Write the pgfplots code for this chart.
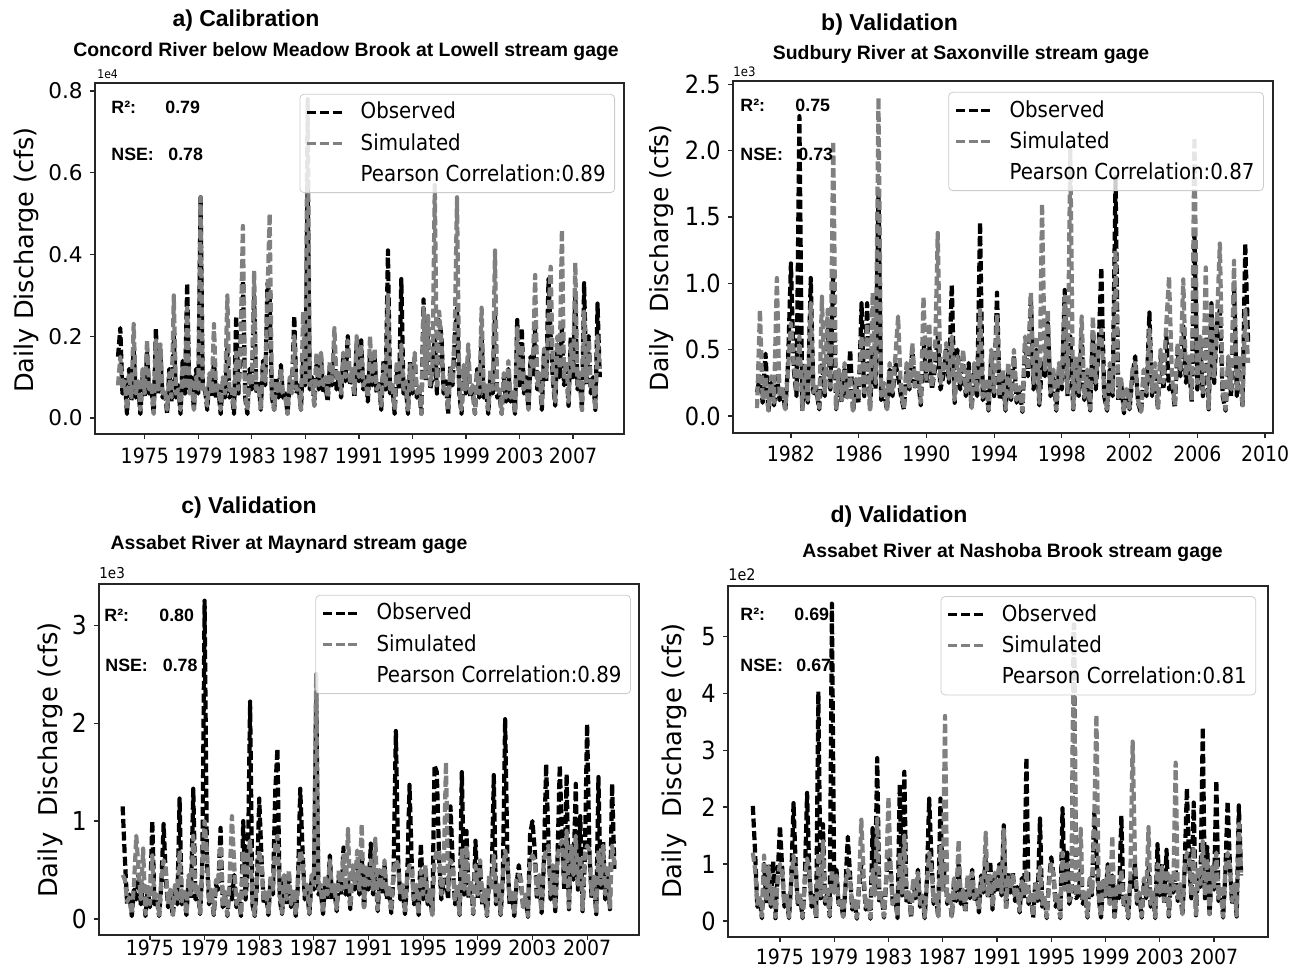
\documentclass[border=0pt]{standalone}
\usepackage{pgfplots}
\pgfplotsset{compat=1.18}
\usepackage{pgfplotstable}
\usepackage{fontspec}
\setmainfont{DejaVu Sans}
\newfontfamily\dvc{DejaVu Sans}[FakeStretch=0.9]
\newfontfamily\ar{Liberation Sans}
\definecolor{simgray}{RGB}{128,128,128}
\newcommand{\fs}[1]{\fontsize{#1}{#1}\selectfont}

% daily discharge, sampled six times a year: t, observed, simulated
% a) Concord River (x 1e4 cfs)
\pgfplotstableread[row sep=\\]{
t o s\\
1973.00 0.15 0.08\\ 1973.17 0.22 0.15\\ 1973.33 0.06 0.07\\ 1973.50 0.10 0.09\\ 1973.67 0.01 0.02\\ 1973.83 0.12 0.11\\
1974.00 0.04 0.05\\ 1974.17 0.17 0.23\\ 1974.33 0.05 0.06\\ 1974.50 0.08 0.09\\ 1974.67 0.01 0.02\\ 1974.83 0.10 0.12\\
1975.00 0.05 0.06\\ 1975.17 0.16 0.19\\ 1975.33 0.06 0.07\\ 1975.50 0.07 0.08\\ 1975.67 0.01 0.01\\ 1975.83 0.22 0.19\\
1976.00 0.06 0.07\\ 1976.17 0.15 0.18\\ 1976.33 0.05 0.06\\ 1976.50 0.07 0.07\\ 1976.67 0.01 0.02\\ 1976.83 0.12 0.11\\
1977.00 0.04 0.05\\ 1977.17 0.20 0.30\\ 1977.33 0.05 0.06\\ 1977.50 0.08 0.07\\ 1977.67 0.01 0.02\\ 1977.83 0.14 0.13\\
1978.00 0.06 0.07\\ 1978.17 0.33 0.27\\ 1978.33 0.07 0.06\\ 1978.50 0.10 0.09\\ 1978.67 0.02 0.02\\ 1978.83 0.12 0.10\\
1979.00 0.06 0.07\\ 1979.17 0.54 0.54\\ 1979.33 0.08 0.07\\ 1979.50 0.07 0.08\\ 1979.67 0.02 0.03\\ 1979.83 0.10 0.11\\
1980.00 0.05 0.06\\ 1980.17 0.14 0.23\\ 1980.33 0.05 0.06\\ 1980.50 0.07 0.08\\ 1980.67 0.01 0.02\\ 1980.83 0.09 0.10\\
1981.00 0.05 0.06\\ 1981.17 0.17 0.30\\ 1981.33 0.05 0.06\\ 1981.50 0.06 0.07\\ 1981.67 0.01 0.02\\ 1981.83 0.25 0.16\\
1982.00 0.06 0.07\\ 1982.17 0.18 0.20\\ 1982.33 0.35 0.47\\ 1982.50 0.05 0.06\\ 1982.67 0.01 0.02\\ 1982.83 0.12 0.11\\
1983.00 0.07 0.08\\ 1983.17 0.30 0.36\\ 1983.33 0.06 0.07\\ 1983.50 0.09 0.08\\ 1983.67 0.02 0.02\\ 1983.83 0.14 0.13\\
1984.00 0.08 0.09\\ 1984.17 0.33 0.30\\ 1984.33 0.30 0.50\\ 1984.50 0.05 0.06\\ 1984.67 0.02 0.02\\ 1984.83 0.10 0.09\\
1985.00 0.05 0.06\\ 1985.17 0.13 0.12\\ 1985.33 0.05 0.06\\ 1985.50 0.06 0.05\\ 1985.67 0.01 0.01\\ 1985.83 0.09 0.10\\
1986.00 0.07 0.06\\ 1986.17 0.25 0.20\\ 1986.33 0.06 0.07\\ 1986.50 0.08 0.07\\ 1986.67 0.02 0.02\\ 1986.83 0.14 0.26\\
1987.00 0.08 0.08\\ 1987.17 0.58 0.78\\ 1987.33 0.07 0.08\\ 1987.50 0.10 0.09\\ 1987.67 0.03 0.03\\ 1987.83 0.14 0.16\\
1988.00 0.07 0.08\\ 1988.17 0.15 0.16\\ 1988.33 0.06 0.08\\ 1988.50 0.08 0.10\\ 1988.67 0.04 0.05\\ 1988.83 0.13 0.14\\
1989.00 0.08 0.09\\ 1989.17 0.17 0.22\\ 1989.33 0.07 0.09\\ 1989.50 0.10 0.11\\ 1989.67 0.05 0.06\\ 1989.83 0.15 0.16\\
1990.00 0.09 0.10\\ 1990.17 0.20 0.19\\ 1990.33 0.08 0.09\\ 1990.50 0.11 0.12\\ 1990.67 0.05 0.06\\ 1990.83 0.18 0.20\\
1991.00 0.09 0.10\\ 1991.17 0.19 0.18\\ 1991.33 0.07 0.08\\ 1991.50 0.10 0.09\\ 1991.67 0.04 0.05\\ 1991.83 0.16 0.20\\
1992.00 0.08 0.09\\ 1992.17 0.15 0.17\\ 1992.33 0.06 0.07\\ 1992.50 0.09 0.08\\ 1992.67 0.02 0.03\\ 1992.83 0.14 0.13\\
1993.00 0.07 0.08\\ 1993.17 0.41 0.30\\ 1993.33 0.06 0.07\\ 1993.50 0.08 0.08\\ 1993.67 0.01 0.02\\ 1993.83 0.12 0.14\\
1994.00 0.07 0.08\\ 1994.17 0.34 0.18\\ 1994.33 0.06 0.07\\ 1994.50 0.08 0.09\\ 1994.67 0.01 0.02\\ 1994.83 0.14 0.13\\
1995.00 0.06 0.07\\ 1995.17 0.15 0.16\\ 1995.33 0.05 0.06\\ 1995.50 0.07 0.08\\ 1995.67 0.01 0.01\\ 1995.83 0.29 0.27\\
1996.00 0.09 0.10\\ 1996.17 0.22 0.25\\ 1996.33 0.07 0.08\\ 1996.50 0.10 0.12\\ 1996.67 0.20 0.57\\ 1996.83 0.06 0.08\\
1997.00 0.24 0.26\\ 1997.17 0.20 0.18\\ 1997.33 0.06 0.07\\ 1997.50 0.09 0.08\\ 1997.67 0.01 0.02\\ 1997.83 0.13 0.12\\
1998.00 0.08 0.09\\ 1998.17 0.20 0.22\\ 1998.33 0.27 0.54\\ 1998.50 0.06 0.07\\ 1998.67 0.01 0.02\\ 1998.83 0.12 0.13\\
1999.00 0.06 0.07\\ 1999.17 0.15 0.18\\ 1999.33 0.05 0.06\\ 1999.50 0.07 0.08\\ 1999.67 0.01 0.01\\ 1999.83 0.12 0.11\\
2000.00 0.05 0.06\\ 2000.17 0.20 0.27\\ 2000.33 0.05 0.06\\ 2000.50 0.07 0.08\\ 2000.67 0.01 0.02\\ 2000.83 0.11 0.12\\
2001.00 0.06 0.07\\ 2001.17 0.25 0.41\\ 2001.33 0.05 0.06\\ 2001.50 0.06 0.07\\ 2001.67 0.01 0.01\\ 2001.83 0.10 0.11\\
2002.00 0.04 0.05\\ 2002.17 0.12 0.14\\ 2002.33 0.04 0.05\\ 2002.50 0.06 0.07\\ 2002.67 0.01 0.01\\ 2002.83 0.24 0.22\\
2003.00 0.08 0.09\\ 2003.17 0.22 0.18\\ 2003.33 0.06 0.07\\ 2003.50 0.10 0.09\\ 2003.67 0.02 0.02\\ 2003.83 0.15 0.14\\
2004.00 0.10 0.12\\ 2004.17 0.22 0.35\\ 2004.33 0.07 0.08\\ 2004.50 0.10 0.11\\ 2004.67 0.02 0.03\\ 2004.83 0.16 0.17\\
2005.00 0.09 0.10\\ 2005.17 0.34 0.25\\ 2005.33 0.20 0.37\\ 2005.50 0.09 0.10\\ 2005.67 0.03 0.04\\ 2005.83 0.18 0.20\\
2006.00 0.10 0.12\\ 2006.17 0.22 0.46\\ 2006.33 0.08 0.10\\ 2006.50 0.12 0.14\\ 2006.67 0.03 0.04\\ 2006.83 0.20 0.18\\
2007.00 0.10 0.11\\ 2007.17 0.30 0.38\\ 2007.33 0.07 0.08\\ 2007.50 0.10 0.11\\ 2007.67 0.02 0.02\\ 2007.83 0.33 0.26\\
2008.00 0.08 0.09\\ 2008.17 0.20 0.19\\ 2008.33 0.06 0.07\\ 2008.50 0.10 0.09\\ 2008.67 0.02 0.02\\ 2008.83 0.28 0.20\\
2009.00 0.10 0.12\\
}\tabA

% b) Sudbury River (x 1e3 cfs)
\pgfplotstableread[row sep=\\]{
t o s\\
1980.00 0.18 0.06\\ 1980.17 0.30 0.80\\ 1980.33 0.10 0.12\\ 1980.50 0.47 0.30\\ 1980.67 0.03 0.04\\ 1980.83 0.25 0.30\\
1981.00 0.08 0.10\\ 1981.17 0.30 1.04\\ 1981.33 0.12 0.14\\ 1981.50 0.20 0.22\\ 1981.67 0.04 0.05\\ 1981.83 0.40 0.35\\
1982.00 1.15 0.70\\ 1982.17 0.35 0.40\\ 1982.33 0.15 0.18\\ 1982.50 2.26 0.60\\ 1982.67 0.04 0.05\\ 1982.83 0.35 0.38\\
1983.00 0.10 0.12\\ 1983.17 1.04 0.85\\ 1983.33 0.15 0.18\\ 1983.50 0.20 0.22\\ 1983.67 0.05 0.06\\ 1983.83 0.40 0.90\\
1984.00 0.15 0.18\\ 1984.17 0.70 0.80\\ 1984.33 0.20 0.22\\ 1984.50 1.10 2.07\\ 1984.67 0.05 0.06\\ 1984.83 0.30 0.35\\
1985.00 0.10 0.12\\ 1985.17 0.35 0.40\\ 1985.33 0.12 0.14\\ 1985.50 0.50 0.30\\ 1985.67 0.03 0.04\\ 1985.83 0.25 0.28\\
1986.00 0.10 0.12\\ 1986.17 0.85 0.60\\ 1986.33 0.15 0.18\\ 1986.50 0.85 0.70\\ 1986.67 0.04 0.05\\ 1986.83 0.50 0.93\\
1987.00 0.20 0.25\\ 1987.17 1.70 2.40\\ 1987.33 0.12 0.15\\ 1987.50 0.20 0.25\\ 1987.67 0.04 0.05\\ 1987.83 0.35 0.40\\
1988.00 0.15 0.18\\ 1988.17 0.40 0.45\\ 1988.33 0.30 0.75\\ 1988.50 0.15 0.18\\ 1988.67 0.05 0.06\\ 1988.83 0.35 0.40\\
1989.00 0.20 0.22\\ 1989.17 0.50 0.55\\ 1989.33 0.20 0.22\\ 1989.50 0.30 0.35\\ 1989.67 0.08 0.10\\ 1989.83 0.58 0.90\\
1990.00 0.25 0.28\\ 1990.17 0.55 0.70\\ 1990.33 0.20 0.22\\ 1990.50 0.35 0.40\\ 1990.67 0.60 1.38\\ 1990.83 0.20 0.25\\
1991.00 0.30 0.35\\ 1991.17 0.50 0.55\\ 1991.33 0.25 0.28\\ 1991.50 0.99 0.60\\ 1991.67 0.10 0.12\\ 1991.83 0.50 0.45\\
1992.00 0.20 0.25\\ 1992.17 0.45 0.50\\ 1992.33 0.15 0.18\\ 1992.50 0.40 0.35\\ 1992.67 0.05 0.06\\ 1992.83 0.35 0.40\\
1993.00 0.15 0.18\\ 1993.17 1.46 0.80\\ 1993.33 0.12 0.14\\ 1993.50 0.25 0.28\\ 1993.67 0.04 0.05\\ 1993.83 0.45 0.50\\
1994.00 0.15 0.18\\ 1994.17 0.93 0.75\\ 1994.33 0.12 0.15\\ 1994.50 0.30 0.35\\ 1994.67 0.04 0.05\\ 1994.83 0.35 0.40\\
1995.00 0.12 0.14\\ 1995.17 0.45 0.50\\ 1995.33 0.10 0.12\\ 1995.50 0.20 0.22\\ 1995.67 0.03 0.04\\ 1995.83 0.55 0.60\\
1996.00 0.30 0.35\\ 1996.17 0.90 0.93\\ 1996.33 0.20 0.25\\ 1996.50 0.50 0.60\\ 1996.67 0.08 0.10\\ 1996.83 0.40 1.60\\
1997.00 0.30 0.35\\ 1997.17 0.70 0.80\\ 1997.33 0.15 0.18\\ 1997.50 0.30 0.35\\ 1997.67 0.04 0.05\\ 1997.83 0.35 0.40\\
1998.00 0.20 0.25\\ 1998.17 0.95 0.90\\ 1998.33 0.15 0.18\\ 1998.50 0.60 2.00\\ 1998.67 0.05 0.06\\ 1998.83 0.40 0.45\\
1999.00 0.15 0.18\\ 1999.17 0.60 0.75\\ 1999.33 0.12 0.14\\ 1999.50 0.30 0.35\\ 1999.67 0.04 0.05\\ 1999.83 0.60 0.75\\
2000.00 0.20 0.25\\ 2000.17 0.50 0.55\\ 2000.33 1.12 0.65\\ 2000.50 0.15 0.18\\ 2000.67 0.04 0.05\\ 2000.83 0.35 0.40\\
2001.00 0.15 0.18\\ 2001.17 1.80 1.25\\ 2001.33 0.12 0.14\\ 2001.50 0.25 0.28\\ 2001.67 0.02 0.03\\ 2001.83 0.20 0.22\\
2002.00 0.05 0.06\\ 2002.17 0.30 0.35\\ 2002.33 0.45 0.40\\ 2002.50 0.10 0.12\\ 2002.67 0.02 0.03\\ 2002.83 0.30 0.35\\
2003.00 0.15 0.18\\ 2003.17 0.78 0.65\\ 2003.33 0.15 0.18\\ 2003.50 0.35 0.40\\ 2003.67 0.05 0.06\\ 2003.83 0.45 0.50\\
2004.00 0.20 0.25\\ 2004.17 0.60 0.70\\ 2004.33 0.20 1.05\\ 2004.50 0.25 0.30\\ 2004.67 0.06 0.08\\ 2004.83 0.50 0.55\\
2005.00 0.30 0.35\\ 2005.17 0.68 1.03\\ 2005.33 0.25 0.30\\ 2005.50 0.40 0.45\\ 2005.67 0.10 0.12\\ 2005.83 1.40 2.10\\
2006.00 0.20 0.25\\ 2006.17 0.55 0.60\\ 2006.33 0.15 0.18\\ 2006.50 0.60 1.12\\ 2006.67 0.05 0.06\\ 2006.83 0.85 0.85\\
2007.00 0.25 0.30\\ 2007.17 0.70 0.75\\ 2007.33 0.80 1.30\\ 2007.50 0.15 0.18\\ 2007.67 0.04 0.05\\ 2007.83 0.40 0.45\\
2008.00 0.15 0.20\\ 2008.17 1.00 1.17\\ 2008.33 0.15 0.18\\ 2008.50 0.40 0.45\\ 2008.67 0.06 0.08\\ 2008.83 1.30 0.80\\
2009.00 0.55 0.40\\
}\tabB

% c) Assabet River at Maynard (x 1e3 cfs)
\pgfplotstableread[row sep=\\]{
t o s\\
1973.00 1.15 0.45\\ 1973.17 0.60 0.40\\ 1973.33 0.15 0.18\\ 1973.50 0.25 0.22\\ 1973.67 0.03 0.05\\ 1973.83 0.30 0.35\\
1974.00 0.20 0.85\\ 1974.17 0.45 0.50\\ 1974.33 0.15 0.20\\ 1974.50 0.35 0.72\\ 1974.67 0.03 0.05\\ 1974.83 0.30 0.35\\
1975.00 0.12 0.15\\ 1975.17 1.00 0.65\\ 1975.33 0.15 0.18\\ 1975.50 0.20 0.25\\ 1975.67 0.03 0.04\\ 1975.83 0.35 0.40\\
1976.00 0.97 0.60\\ 1976.17 0.40 0.50\\ 1976.33 0.12 0.15\\ 1976.50 0.25 0.30\\ 1976.67 0.03 0.04\\ 1976.83 0.30 0.35\\
1977.00 0.15 0.18\\ 1977.17 1.23 0.70\\ 1977.33 0.15 0.18\\ 1977.50 0.25 0.30\\ 1977.67 0.04 0.05\\ 1977.83 0.40 0.45\\
1978.00 0.20 0.25\\ 1978.17 1.33 0.85\\ 1978.33 0.20 0.25\\ 1978.50 0.30 0.35\\ 1978.67 0.05 0.06\\ 1978.83 0.50 0.55\\
1979.00 3.25 1.00\\ 1979.17 0.60 0.70\\ 1979.33 0.15 0.18\\ 1979.50 0.25 0.30\\ 1979.67 0.04 0.05\\ 1979.83 0.35 0.40\\
1980.00 0.30 0.35\\ 1980.17 0.93 0.75\\ 1980.33 0.12 0.15\\ 1980.50 0.25 0.28\\ 1980.67 0.03 0.04\\ 1980.83 0.35 0.40\\
1981.00 0.20 1.05\\ 1981.17 0.45 0.55\\ 1981.33 0.12 0.15\\ 1981.50 0.20 0.25\\ 1981.67 0.03 0.04\\ 1981.83 1.00 0.70\\
1982.00 0.20 0.25\\ 1982.17 0.55 0.65\\ 1982.33 2.22 0.80\\ 1982.50 0.15 0.18\\ 1982.67 0.03 0.04\\ 1982.83 0.35 0.40\\
1983.00 1.23 0.70\\ 1983.17 0.60 0.55\\ 1983.33 0.15 0.18\\ 1983.50 0.25 0.30\\ 1983.67 0.04 0.05\\ 1983.83 0.40 0.45\\
1984.00 0.25 0.30\\ 1984.17 1.30 0.75\\ 1984.33 1.74 0.85\\ 1984.50 0.20 0.25\\ 1984.67 0.05 0.06\\ 1984.83 0.40 0.45\\
1985.00 0.15 0.20\\ 1985.17 0.45 0.50\\ 1985.33 0.12 0.15\\ 1985.50 0.25 0.30\\ 1985.67 0.03 0.04\\ 1985.83 0.35 0.40\\
1986.00 1.33 0.70\\ 1986.17 0.70 0.60\\ 1986.33 0.20 0.25\\ 1986.50 0.30 0.35\\ 1986.67 0.05 0.06\\ 1986.83 0.40 0.45\\
1987.00 0.30 0.35\\ 1987.17 2.30 2.50\\ 1987.33 0.25 0.30\\ 1987.50 0.30 0.35\\ 1987.67 0.05 0.06\\ 1987.83 0.40 0.45\\
1988.00 0.20 0.25\\ 1988.17 0.65 0.60\\ 1988.33 0.20 0.25\\ 1988.50 0.30 0.35\\ 1988.67 0.08 0.10\\ 1988.83 0.45 0.50\\
1989.00 0.25 0.30\\ 1989.17 0.73 0.65\\ 1989.33 0.25 0.30\\ 1989.50 0.40 0.92\\ 1989.67 0.10 0.12\\ 1989.83 0.50 0.55\\
1990.00 0.30 0.35\\ 1990.17 0.60 0.70\\ 1990.33 0.25 0.30\\ 1990.50 0.65 0.97\\ 1990.67 0.10 0.12\\ 1990.83 0.50 0.55\\
1991.00 0.30 0.35\\ 1991.17 0.77 0.60\\ 1991.33 0.25 0.30\\ 1991.50 0.50 0.82\\ 1991.67 0.08 0.10\\ 1991.83 0.45 0.50\\
1992.00 0.25 0.30\\ 1992.17 0.55 0.60\\ 1992.33 0.20 0.25\\ 1992.50 0.30 0.35\\ 1992.67 0.06 0.08\\ 1992.83 0.45 0.50\\
1993.00 1.92 0.60\\ 1993.17 0.60 0.55\\ 1993.33 0.20 0.25\\ 1993.50 0.30 0.35\\ 1993.67 0.05 0.06\\ 1993.83 0.40 0.45\\
1994.00 1.37 0.55\\ 1994.17 0.55 0.50\\ 1994.33 0.15 0.20\\ 1994.50 0.30 0.35\\ 1994.67 0.04 0.05\\ 1994.83 0.77 0.50\\
1995.00 0.20 0.25\\ 1995.17 0.50 0.55\\ 1995.33 0.15 0.18\\ 1995.50 0.25 0.30\\ 1995.67 0.03 0.04\\ 1995.83 1.57 0.60\\
1996.00 1.50 0.70\\ 1996.17 0.60 0.70\\ 1996.33 0.20 0.25\\ 1996.50 0.40 0.45\\ 1996.67 0.40 1.60\\ 1996.83 0.20 0.30\\
1997.00 1.15 0.60\\ 1997.17 0.55 0.55\\ 1997.33 0.15 0.20\\ 1997.50 0.30 0.35\\ 1997.67 0.04 0.05\\ 1997.83 1.50 0.70\\
1998.00 0.25 0.30\\ 1998.17 0.90 0.75\\ 1998.33 0.20 0.25\\ 1998.50 0.35 0.40\\ 1998.67 0.05 0.06\\ 1998.83 0.80 0.55\\
1999.00 0.20 0.25\\ 1999.17 0.55 0.60\\ 1999.33 0.15 0.18\\ 1999.50 0.25 0.30\\ 1999.67 0.03 0.04\\ 1999.83 0.40 0.45\\
2000.00 0.30 0.30\\ 2000.17 1.47 0.65\\ 2000.33 0.15 0.18\\ 2000.50 0.30 0.35\\ 2000.67 0.04 0.05\\ 2000.83 0.40 0.45\\
2001.00 2.04 0.70\\ 2001.17 0.60 0.55\\ 2001.33 0.15 0.20\\ 2001.50 0.25 0.30\\ 2001.67 0.03 0.04\\ 2001.83 0.35 0.40\\
2002.00 0.55 0.45\\ 2002.17 0.35 0.40\\ 2002.33 0.10 0.12\\ 2002.50 0.20 0.25\\ 2002.67 0.02 0.03\\ 2002.83 0.87 0.60\\
2003.00 1.00 0.65\\ 2003.17 0.70 0.60\\ 2003.33 0.20 0.25\\ 2003.50 0.40 0.45\\ 2003.67 0.06 0.08\\ 2003.83 0.55 0.60\\
2004.00 1.58 0.70\\ 2004.17 0.80 0.75\\ 2004.33 0.20 0.25\\ 2004.50 0.50 0.55\\ 2004.67 0.08 0.10\\ 2004.83 0.60 0.65\\
2005.00 1.57 0.75\\ 2005.17 0.80 0.80\\ 2005.33 0.30 0.35\\ 2005.50 1.48 0.90\\ 2005.67 0.10 0.12\\ 2005.83 0.70 0.75\\
2006.00 0.40 0.45\\ 2006.17 1.38 0.85\\ 2006.33 0.30 0.35\\ 2006.50 1.05 0.65\\ 2006.67 0.08 0.10\\ 2006.83 0.60 0.65\\
2007.00 1.99 0.75\\ 2007.17 0.70 0.70\\ 2007.33 0.20 0.25\\ 2007.50 0.40 0.45\\ 2007.67 0.05 0.06\\ 2007.83 1.45 0.70\\
2008.00 0.30 0.35\\ 2008.17 0.80 0.75\\ 2008.33 0.20 0.25\\ 2008.50 0.50 0.55\\ 2008.67 0.10 0.12\\ 2008.83 1.38 0.75\\
2009.00 0.50 0.55\\
}\tabC

% d) Assabet River at Nashoba Brook (x 1e2 cfs)
\pgfplotstableread[row sep=\\]{
t o s\\
1973.00 2.02 1.20\\ 1973.17 1.20 0.90\\ 1973.33 0.25 0.30\\ 1973.50 0.40 0.45\\ 1973.67 0.05 0.08\\ 1973.83 1.00 1.15\\
1974.00 0.30 0.35\\ 1974.17 1.00 0.95\\ 1974.33 0.25 0.30\\ 1974.50 1.05 0.60\\ 1974.67 0.05 0.07\\ 1974.83 0.80 0.75\\
1975.00 1.67 1.00\\ 1975.17 0.90 0.85\\ 1975.33 0.25 0.30\\ 1975.50 0.40 0.45\\ 1975.67 0.05 0.07\\ 1975.83 0.70 0.70\\
1976.00 2.07 1.15\\ 1976.17 0.90 0.90\\ 1976.33 0.25 0.30\\ 1976.50 0.40 0.45\\ 1976.67 0.05 0.07\\ 1976.83 0.70 0.70\\
1977.00 2.25 1.10\\ 1977.17 0.80 0.85\\ 1977.33 0.25 0.30\\ 1977.50 0.45 0.40\\ 1977.67 0.05 0.07\\ 1977.83 4.03 1.20\\
1978.00 0.40 0.45\\ 1978.17 1.70 1.40\\ 1978.33 0.30 0.35\\ 1978.50 0.50 0.55\\ 1978.67 0.08 0.10\\ 1978.83 5.57 0.90\\
1979.00 0.50 0.50\\ 1979.17 0.90 0.80\\ 1979.33 0.25 0.30\\ 1979.50 0.35 0.40\\ 1979.67 0.05 0.07\\ 1979.83 0.60 0.65\\
1980.00 1.48 0.90\\ 1980.17 0.80 0.75\\ 1980.33 0.20 0.25\\ 1980.50 0.35 0.40\\ 1980.67 0.04 0.06\\ 1980.83 0.60 0.65\\
1981.00 1.00 1.78\\ 1981.17 0.70 0.80\\ 1981.33 0.20 0.25\\ 1981.50 0.35 0.40\\ 1981.67 0.04 0.06\\ 1981.83 1.63 0.90\\
1982.00 0.50 0.45\\ 1982.17 2.86 1.80\\ 1982.33 0.30 0.35\\ 1982.50 0.45 0.50\\ 1982.67 0.06 0.08\\ 1982.83 0.70 0.75\\
1983.00 1.20 2.18\\ 1983.17 0.90 0.85\\ 1983.33 0.25 0.30\\ 1983.50 0.40 0.45\\ 1983.67 0.05 0.07\\ 1983.83 2.40 1.20\\
1984.00 0.45 0.50\\ 1984.17 2.62 1.50\\ 1984.33 0.30 0.35\\ 1984.50 0.50 0.55\\ 1984.67 0.06 0.08\\ 1984.83 0.70 0.75\\
1985.00 0.40 0.45\\ 1985.17 0.90 0.85\\ 1985.33 0.25 0.30\\ 1985.50 0.40 0.45\\ 1985.67 0.05 0.07\\ 1985.83 0.70 0.65\\
1986.00 2.15 1.20\\ 1986.17 1.10 0.90\\ 1986.33 0.30 0.35\\ 1986.50 0.45 0.50\\ 1986.67 0.06 0.08\\ 1986.83 2.15 1.30\\
1987.00 0.50 0.55\\ 1987.17 1.00 3.60\\ 1987.33 0.30 0.35\\ 1987.50 0.45 0.50\\ 1987.67 0.06 0.08\\ 1987.83 0.70 0.75\\
1988.00 0.35 0.40\\ 1988.17 1.00 1.42\\ 1988.33 0.30 0.35\\ 1988.50 0.50 0.55\\ 1988.67 0.15 0.20\\ 1988.83 0.75 0.80\\
1989.00 0.40 0.45\\ 1989.17 0.90 0.85\\ 1989.33 0.35 0.40\\ 1989.50 0.50 0.55\\ 1989.67 0.15 0.20\\ 1989.83 0.80 0.75\\
1990.00 0.50 0.55\\ 1990.17 1.15 1.55\\ 1990.33 0.40 0.45\\ 1990.50 1.05 0.80\\ 1990.67 0.20 0.25\\ 1990.83 0.80 0.85\\
1991.00 0.50 0.55\\ 1991.17 1.00 1.00\\ 1991.33 0.45 0.50\\ 1991.50 1.68 1.60\\ 1991.67 0.20 0.25\\ 1991.83 0.85 0.80\\
1992.00 0.50 0.55\\ 1992.17 0.85 0.80\\ 1992.33 0.35 0.40\\ 1992.50 0.60 0.55\\ 1992.67 0.15 0.18\\ 1992.83 0.75 0.70\\
1993.00 0.40 0.45\\ 1993.17 2.87 0.90\\ 1993.33 0.30 0.35\\ 1993.50 0.45 0.50\\ 1993.67 0.06 0.08\\ 1993.83 0.70 0.65\\
1994.00 0.35 0.40\\ 1994.17 1.80 0.95\\ 1994.33 0.25 0.30\\ 1994.50 0.40 0.45\\ 1994.67 0.05 0.07\\ 1994.83 0.70 0.65\\
1995.00 1.12 1.00\\ 1995.17 0.80 0.80\\ 1995.33 0.25 0.30\\ 1995.50 0.40 0.45\\ 1995.67 0.05 0.07\\ 1995.83 1.98 1.20\\
1996.00 0.50 0.55\\ 1996.17 1.20 1.00\\ 1996.33 0.30 0.35\\ 1996.50 0.50 0.55\\ 1996.67 5.20 5.20\\ 1996.83 0.40 0.45\\
1997.00 0.45 0.50\\ 1997.17 0.90 1.62\\ 1997.33 0.30 0.35\\ 1997.50 0.45 0.50\\ 1997.67 0.06 0.08\\ 1997.83 0.70 0.75\\
1998.00 0.45 0.50\\ 1998.17 1.90 1.80\\ 1998.33 1.20 3.62\\ 1998.50 0.40 0.45\\ 1998.67 0.06 0.08\\ 1998.83 0.70 0.75\\
1999.00 0.40 0.45\\ 1999.17 1.00 0.95\\ 1999.33 0.25 0.30\\ 1999.50 0.80 1.50\\ 1999.67 0.05 0.07\\ 1999.83 0.60 0.65\\
2000.00 0.40 0.45\\ 2000.17 1.85 0.90\\ 2000.33 0.25 0.30\\ 2000.50 0.40 0.45\\ 2000.67 0.05 0.07\\ 2000.83 0.70 0.75\\
2001.00 0.60 3.15\\ 2001.17 1.00 1.10\\ 2001.33 0.30 0.35\\ 2001.50 0.45 0.50\\ 2001.67 0.06 0.08\\ 2001.83 0.70 0.75\\
2002.00 0.40 0.45\\ 2002.17 1.00 1.65\\ 2002.33 0.25 0.30\\ 2002.50 0.45 0.50\\ 2002.67 0.05 0.07\\ 2002.83 1.35 1.00\\
2003.00 0.45 0.50\\ 2003.17 1.00 0.95\\ 2003.33 0.30 0.35\\ 2003.50 1.25 0.90\\ 2003.67 0.08 0.10\\ 2003.83 0.80 0.85\\
2004.00 0.50 0.55\\ 2004.17 0.90 2.78\\ 2004.33 0.35 0.40\\ 2004.50 0.60 0.65\\ 2004.67 0.10 0.12\\ 2004.83 0.90 0.95\\
2005.00 2.33 1.20\\ 2005.17 1.00 1.10\\ 2005.33 0.40 0.45\\ 2005.50 2.08 1.30\\ 2005.67 0.10 0.12\\ 2005.83 0.90 0.95\\
2006.00 0.60 0.65\\ 2006.17 3.40 1.40\\ 2006.33 0.40 0.45\\ 2006.50 1.30 1.10\\ 2006.67 0.10 0.12\\ 2006.83 0.90 0.95\\
2007.00 0.55 0.60\\ 2007.17 2.47 1.20\\ 2007.33 0.35 0.40\\ 2007.50 0.55 0.60\\ 2007.67 0.06 0.08\\ 2007.83 0.80 0.85\\
2008.00 2.10 1.20\\ 2008.17 1.00 0.95\\ 2008.33 0.30 0.35\\ 2008.50 0.60 0.65\\ 2008.67 0.08 0.10\\ 2008.83 2.03 1.70\\
2009.00 0.80 0.85\\
}\tabD

\pgfplotsset{
  panel/.style={
    scale only axis, anchor=south west, clip=true,
    tick align=outside, xtick pos=bottom, ytick pos=left,
    major tick length=2.6pt,
    axis line style={black!85, line width=0.6pt},
    tick style={black!85, line width=0.6pt},
    xticklabel style={font=\dvc\fs{10.5}},
    legend image code/.code={\draw[##1, line width=1.4pt] (0pt,0pt) -- (17.5pt,0pt);},
    legend cell align=left,
    legend style={anchor=north east, draw=black!20, rounded corners=2pt,
      fill=white, fill opacity=0.8, text opacity=1, font=\dvc\fs{11},
      inner xsep=3pt, inner ysep=2.5pt, row sep=2.8pt,
      nodes={inner sep=1.5pt},
      /tikz/every odd column/.append style={column sep=7pt}},
  },
  obs/.style={black, line width=2.1pt, line join=round, dash pattern=on 4.5pt off 1.8pt},
  sim/.style={simgray, line width=2.1pt, line join=round, dash pattern=on 4.5pt off 1.8pt},
}

\begin{document}
\begin{tikzpicture}
\path[use as bounding box] (0pt,0pt) rectangle (652.5pt,484pt);

% a) Calibration
\begin{axis}[panel, at={(47.5pt,267pt)}, width=264.5pt, height=175.5pt,
  xmin=1971.28, xmax=2010.81, ymin=-0.039, ymax=0.8195,
  xtick={1975,1979,1983,1987,1991,1995,1999,2003,2007},
  xticklabels={1975,1979,1983,1987,1991,1995,1999,2003,2007},
  xticklabel style={yshift=-0.8pt},
  ytick={0,0.2,0.4,0.6,0.8}, yticklabels={0.0,0.2,0.4,0.6,0.8},
  yticklabel style={font=\fs{10.8}},
  legend style={at={(0.983,0.969)}}]
\addplot[obs] table[x=t,y=o]{\tabA}; \addlegendentry{Observed}
\addplot[sim] table[x=t,y=s]{\tabA}; \addlegendentry{Simulated}
\addlegendimage{empty legend} \addlegendentry{Pearson Correlation:0.89}
\end{axis}

% b) Validation, Sudbury
\begin{axis}[panel, at={(366.5pt,267.5pt)}, width=270pt, height=176pt,
  xmin=1978.58, xmax=2010.47, ymin=-0.128, ymax=2.525,
  xtick={1982,1986,1990,1994,1998,2002,2006,2010},
  xticklabels={1982,1986,1990,1994,1998,2002,2006,2010},
  xticklabel style={yshift=-0.5pt},
  ytick={0,0.5,1,1.5,2,2.5}, yticklabels={0.0,0.5,1.0,1.5,2.0,2.5},
  yticklabel style={font=\dvc\fs{12.5}},
  legend style={at={(0.983,0.969)}}]
\addplot[obs] table[x=t,y=o]{\tabB}; \addlegendentry{Observed}
\addplot[sim] table[x=t,y=s]{\tabB}; \addlegendentry{Simulated}
\addlegendimage{empty legend} \addlegendentry{Pearson Correlation:0.87}
\end{axis}

% c) Validation, Maynard
\begin{axis}[panel, at={(49.5pt,16.5pt)}, width=270pt, height=175.5pt,
  xmin=1971.27, xmax=2010.8, ymin=-0.163, ymax=3.42,
  xtick={1975,1979,1983,1987,1991,1995,1999,2003,2007},
  xticklabels={1975,1979,1983,1987,1991,1995,1999,2003,2007},
  xticklabel style={yshift=3.5pt},
  ytick={0,1,2,3}, yticklabels={0,1,2,3},
  yticklabel style={font=\dvc\fs{13}},
  legend style={at={(0.985,0.969)}}]
\addplot[obs] table[x=t,y=o]{\tabC}; \addlegendentry{Observed}
\addplot[sim] table[x=t,y=s]{\tabC}; \addlegendentry{Simulated}
\addlegendimage{empty legend} \addlegendentry{Pearson Correlation:0.89}
\end{axis}

% d) Validation, Nashoba Brook
\begin{axis}[panel, at={(364pt,15.5pt)}, width=270pt, height=175.5pt,
  xmin=1971.17, xmax=2010.98, ymin=-0.28, ymax=5.88,
  xtick={1975,1979,1983,1987,1991,1995,1999,2003,2007},
  xticklabels={1975,1979,1983,1987,1991,1995,1999,2003,2007},
  ytick={0,1,2,3,4,5}, yticklabels={0,1,2,3,4,5},
  yticklabel style={font=\dvc\fs{12.5}},
  legend style={at={(0.978,0.971)}}]
\addplot[obs] table[x=t,y=o]{\tabD}; \addlegendentry{Observed}
\addplot[sim] table[x=t,y=s]{\tabD}; \addlegendentry{Simulated}
\addlegendimage{empty legend} \addlegendentry{Pearson Correlation:0.81}
\end{axis}

% titles
\node[font=\ar\bfseries\fs{11.5}] at (123pt,473.7pt) {a) Calibration};
\node[font=\ar\bfseries\fs{9.7}] at (173pt,458pt) {Concord River below Meadow Brook at Lowell stream gage};
\node[font=\ar\bfseries\fs{11.5}] at (444.8pt,471.5pt) {b) Validation};
\node[font=\ar\bfseries\fs{9.7}] at (480.5pt,456.5pt) {Sudbury River at Saxonville stream gage};
\node[font=\ar\bfseries\fs{11.5}] at (124.5pt,230pt) {c) Validation};
\node[font=\ar\bfseries\fs{9.7}] at (144.5pt,211.5pt) {Assabet River at Maynard stream gage};
\node[font=\ar\bfseries\fs{11.5}] at (449.5pt,225.5pt) {d) Validation};
\node[font=\ar\bfseries\fs{9.7}] at (506.25pt,207.5pt) {Assabet River at Nashoba Brook stream gage};

% y labels
\node[rotate=90, font=\fs{12.8}] at (13pt,354pt) {Daily Discharge (cfs)};
\node[rotate=90, font=\fs{12.5}] at (331pt,355pt) {Daily\ \ Discharge (cfs)};
\node[rotate=90, font=\fs{12.9}] at (25pt,104pt) {Daily\ \ Discharge (cfs)};
\node[rotate=90, font=\fs{12.9}] at (337pt,103.5pt) {Daily\ \ Discharge (cfs)};

% scale factors
\node[anchor=base west, inner sep=0pt, font=\dvc\fs{6}] at (48.5pt,444.5pt) {1e4};
\node[anchor=base west, inner sep=0pt, font=\dvc\fs{6.5}] at (366.5pt,445.5pt) {1e3};
\node[anchor=base west, inner sep=0pt, font=\dvc\fs{7.5}] at (49.5pt,194.5pt) {1e3};
\node[anchor=base west, inner sep=0pt, font=\dvc\fs{8}] at (364pt,193.6pt) {1e2};

% fit statistics
\begin{scope}[every node/.style={anchor=west, inner sep=0pt, font=\ar\bfseries\fs{8.9}}]
\node at (55.5pt,430.5pt) {R²:}; \node at (82.5pt,430.5pt) {0.79};
\node at (55.5pt,407pt) {NSE:}; \node at (84pt,407pt) {0.78};
\node at (370pt,431.2pt) {R²:}; \node at (397.5pt,431.2pt) {0.75};
\node at (370pt,407pt) {NSE:}; \node at (399pt,407pt) {0.73};
\node at (52pt,176.5pt) {R²:}; \node at (79.5pt,176.5pt) {0.80};
\node at (52.5pt,151.5pt) {NSE:}; \node at (81.25pt,151.5pt) {0.78};
\node at (370pt,177pt) {R²:}; \node at (397pt,177pt) {0.69};
\node at (370pt,151.5pt) {NSE:}; \node at (398pt,151.5pt) {0.67};
\end{scope}
\end{tikzpicture}
\end{document}
